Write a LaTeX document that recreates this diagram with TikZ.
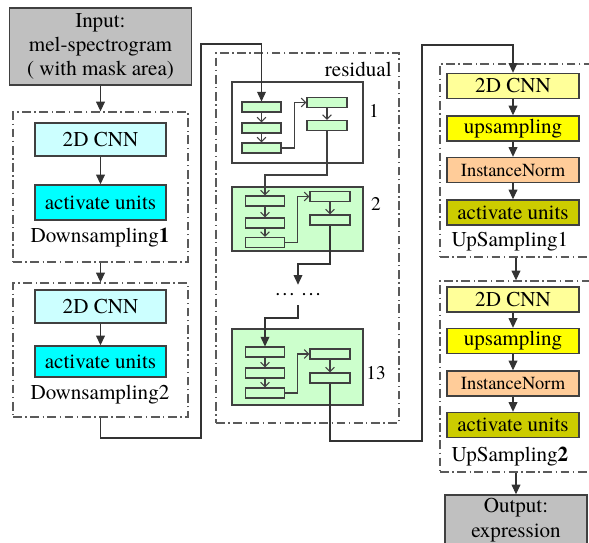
\documentclass[tikz,border=0pt]{standalone}
\usepackage{fontspec}
\setmainfont{texgyretermes}[Extension=.otf,UprightFont=*-regular,
  BoldFont=*-bold,ItalicFont=*-italic,BoldItalicFont=*-bolditalic]
\usetikzlibrary{arrows.meta,positioning}
\definecolor{boxline}{RGB}{64,64,64}
\definecolor{framegray}{RGB}{90,90,90}
\definecolor{ingray}{RGB}{192,192,192}
\definecolor{cnnlight}{RGB}{204,255,255}
\definecolor{actcyan}{RGB}{0,255,255}
\definecolor{resgreen}{RGB}{204,255,204}
\definecolor{upcnn}{RGB}{255,255,153}
\definecolor{upyellow}{RGB}{255,255,0}
\definecolor{normpeach}{RGB}{255,204,153}
\definecolor{actolive}{RGB}{204,204,0}
\tikzset{
  box/.style={rectangle,draw=boxline,fill=#1,line width=0.8pt,
              minimum width=2.62cm,minimum height=0.66cm,inner sep=1pt,
              font=\fontsize{12}{13.6}\selectfont,align=center},
  box/.default=cnnlight,
  ubox/.style={box=#1,minimum width=2.64cm,minimum height=0.5cm},
  frame/.style={rectangle,draw=framegray,line width=0.8pt,inner sep=0pt,
                dash pattern=on 5pt off 2pt on 0.8pt off 2pt},
  blk/.style={rectangle,draw=boxline,fill=#1,line width=0.8pt,
              minimum width=2.62cm,inner sep=0pt},
  sblk/.style={rectangle,draw=boxline,fill=resgreen,line width=0.6pt,
               minimum width=0.78cm,minimum height=0.2cm,inner sep=0pt},
  arr/.style={-{Triangle[length=5.5pt,width=5pt]},line width=0.6pt,draw=#1},
  arr/.default=black!80,
  sarr/.style={-{Straight Barb[length=2.5pt,width=5pt]},line width=0.6pt,draw=boxline},
  lbl/.style={inner sep=0pt,font=\fontsize{12}{13.6}\selectfont},
}
\begin{document}
\begin{tikzpicture}[x=0.02cm,y=-0.02cm]
  \useasboundingbox[fill=white] (0,0) rectangle (589,542);
  % input and the two downsampling stages
  \node[box=ingray,minimum width=3.64cm,minimum height=1.54cm]
    (input) at (100.5,46.5) {Input:\\mel-spectrogram\\( with mask area)};
  \node[frame,minimum width=3.5cm,minimum height=3cm] (ds1) at (100.5,187) {};
  \node[box=cnnlight] (ds1cnn) at (100.5,139.5) {2D CNN};
  \node[box=actcyan,minimum height=0.7cm] (ds1act) at (100.5,202.5) {activate units};
  \node[lbl] (ds1lbl) at (100,238) {Downsampling\textbf{1}};
  \node[frame,minimum width=3.5cm,minimum height=2.68cm] (ds2) at (100.5,350) {};
  \node[box=cnnlight] (ds2cnn) at (100.5,306.5) {2D CNN};
  \node[box=actcyan,minimum height=0.62cm] (ds2act) at (100.5,361.5) {activate units};
  \node[lbl] (ds2lbl) at (100,395) {Downsampling2};
  \draw[arr] (input.south) -- (ds1.north);
  \draw[arr] (ds1cnn) -- (ds1act);
  \draw[arr] (ds1.south) -- (ds2.north);
  \draw[arr] (ds2cnn) -- (ds2act);

  % residual blocks
  \node[frame,minimum width=3.66cm,minimum height=7.4cm] (res) at (307.5,238) {};
  \node[lbl,anchor=east] (reslbl) at (392,69) {residual};
  \node[blk=white,minimum height=1.62cm] (blk1) at (297.5,122.5) {};
  \node[blk=resgreen,minimum height=1.28cm] (blk2) at (297.5,219) {};
  \node[blk=resgreen,minimum height=1.52cm] (blk3) at (297.5,367) {};
  \node[lbl,font=\fontsize{11}{13}\selectfont] (blk1lbl) at (374,111) {1};
  \node[lbl,font=\fontsize{11}{13}\selectfont] (blk2lbl) at (376,204) {2};
  \node[lbl,font=\fontsize{11}{13}\selectfont] (blk3lbl) at (376,373) {13};
  \foreach \bi/\xl/\ya/\yb/\yc/\xr/\yd/\ye in
      {1/261.5/107/128/148/327/102.5/125.5,
       2/265/201/223/242.5/330/196.5/220,
       3/265/352/373/393/330/354/378}{
    \node[sblk] (b\bi l1) at (\xl,\ya) {};
    \node[sblk] (b\bi l2) at (\xl,\yb) {};
    \node[sblk] (b\bi l3) at (\xl,\yc) {};
    \node[sblk,minimum width=0.8cm] (b\bi r1) at (\xr,\yd) {};
    \node[sblk,minimum width=0.8cm] (b\bi r2) at (\xr,\ye) {};
    \draw[sarr] (b\bi l1) -- (b\bi l2);
    \draw[sarr] (b\bi l2) -- (b\bi l3);
    \draw[sarr] (b\bi l3.east) -| ([xshift=-0.24cm]b\bi r1.west) -- (b\bi r1.west);
    \draw[sarr] (b\bi r1) -- (b\bi r2);
  }
  \node[lbl,inner ysep=5pt] (dots) at (298,295) {\dots\ \dots};

  \coordinate (c1) at (201,438);
  \coordinate (c2) at (261.5,44);
  \coordinate (c3) at (265,175);
  \coordinate (c4) at (298,264);
  \coordinate (c5) at (265,318);
  \coordinate (c6) at (422,441);
  \coordinate (c7) at (513,45);
  \draw[arr] (ds2.south) |- (c1) |- (c2) -- (b1l1.north);
  \draw[sarr] (b1r2.south) |- (c3) -- (b2l1.north);
  \draw[arr] (b2r2.south) |- (c4) -- (dots.north);
  \draw[arr] (dots.south) |- (c5) -- (b3l1.north);

  % upsampling stages and output
  \node[frame,minimum width=3.04cm,minimum height=3.86cm] (up1) at (516,160.5) {};
  \node[ubox=upcnn] (up1cnn) at (513,86) {2D CNN};
  \node[ubox=upyellow] (up1ups) at (513,128.5) {upsampling};
  \node[ubox=normpeach,font=\fontsize{10.5}{12}\selectfont] (up1norm) at (513,170) {InstanceNorm};
  \node[ubox=actolive] (up1act) at (513,212.5) {activate units};
  \node[lbl] (up1lbl) at (510,242) {UpSampling1};
  \node[frame,minimum width=3.04cm,minimum height=3.82cm] (up2) at (516,376.5) {};
  \node[ubox=upcnn] (up2cnn) at (513,299.5) {2D CNN};
  \node[ubox=upyellow] (up2ups) at (513,341) {upsampling};
  \node[ubox=normpeach,font=\fontsize{10.5}{12}\selectfont] (up2norm) at (513,383.5) {InstanceNorm};
  \node[ubox=actolive] (up2act) at (513,425) {activate units};
  \node[lbl] (up2lbl) at (510,457) {UpSampling\textbf{2}};
  \node[box=ingray,minimum width=2.84cm,minimum height=1cm,font=\fontsize{12}{14}\selectfont]
    (output) at (516,520) {Output:\\expression};

  \draw[arr] (b3r2.south) |- (c6) |- (c7) -- (up1cnn.north);
  \draw[arr] (up1cnn) -- (up1ups);
  \draw[arr] (up1ups) -- (up1norm);
  \draw[arr] (up1norm) -- (up1act);
  \draw[arr] (up1.south) -- (up2.north);
  \draw[arr] (up2cnn) -- (up2ups);
  \draw[arr] (up2ups) -- (up2norm);
  \draw[arr] (up2norm) -- (up2act);
  \draw[arr] (up2.south) -- (output.north);
\end{tikzpicture}
\end{document}
